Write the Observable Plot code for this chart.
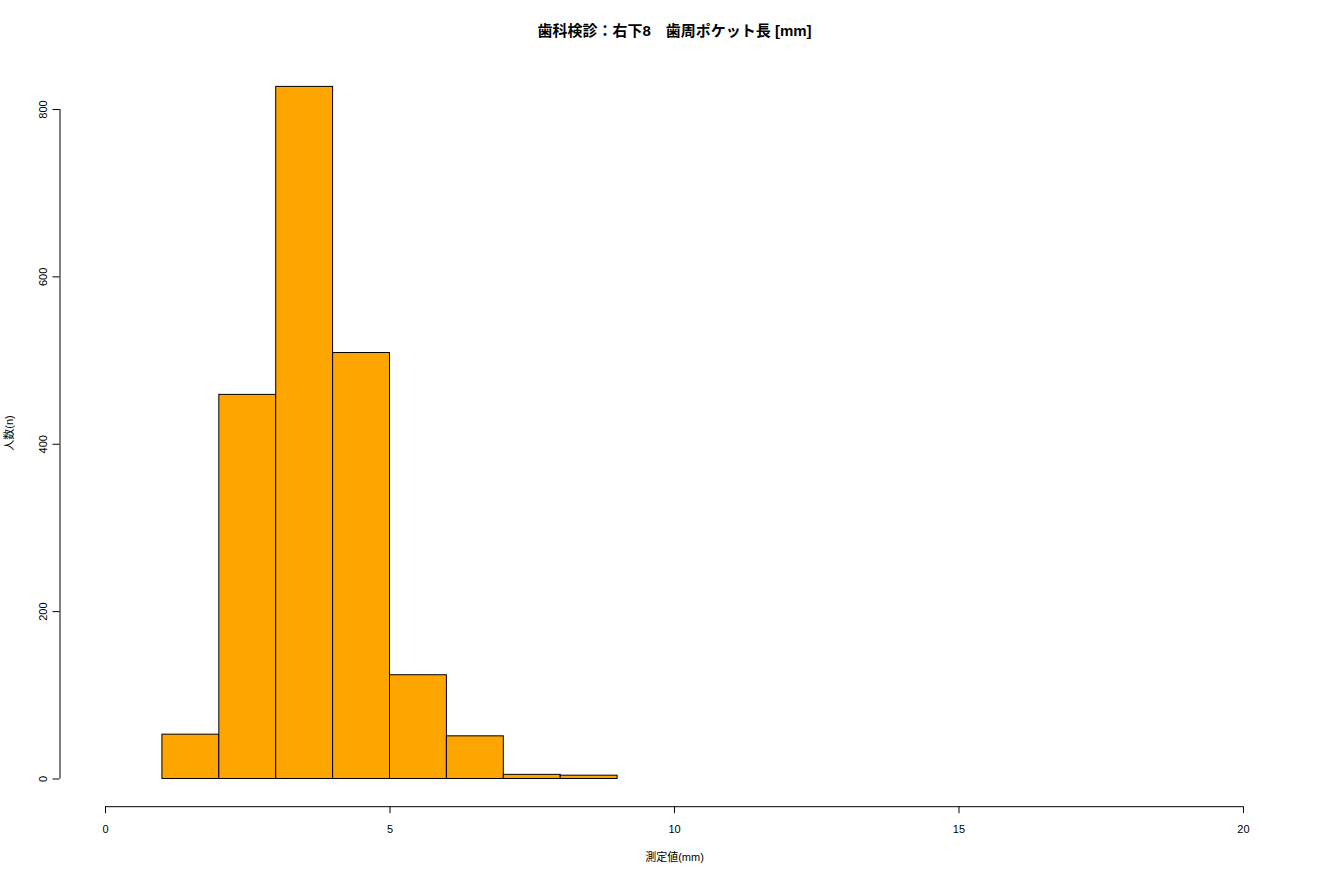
<!DOCTYPE html>
<html>
<head>
<meta charset="utf-8">
<script src="https://cdn.jsdelivr.net/npm/d3@7"></script>
<script src="https://cdn.jsdelivr.net/npm/@observablehq/plot@0.6"></script>
<style>
  html, body { margin: 0; padding: 0; background: #fff; }
  #chart svg { display: block; }
</style>
</head>
<body>
<div id="chart"></div>
<script>
// Data
const binStarts = [1, 2, 3, 4, 5, 6, 7, 8];
const binEnds   = [2, 3, 4, 5, 6, 7, 8, 9];
const counts    = [53, 459, 827, 509, 124, 51, 5, 4];
const xTicks = [0, 5, 10, 15, 20];
const yTicks = [0, 200, 400, 600, 800];
const titleText = "歯科検診：右下8　歯周ポケット長 [mm]";
const xLabel = "測定値(mm)";
const yLabel = "人数(n)";

const bins = binStarts.map((s, i) => ({x1: s, x2: binEnds[i], n: counts[i]}));

// R-style 4% padding of axis ranges
const xLim = [d3.min(xTicks), d3.max(xTicks)];
const xPad = (xLim[1] - xLim[0]) * 0.04;
const xDomain = [xLim[0] - xPad, xLim[1] + xPad];
const yLim = [0, d3.max(counts)];
const yPad = (yLim[1] - yLim[0]) * 0.04;
const yDomain = [yLim[0] - yPad, yLim[1] + yPad];

const font = "'Liberation Sans', 'Noto Sans CJK JP', sans-serif";

const chart = Plot.plot({
  width: 1320,
  height: 880,
  marginLeft: 59.5,
  marginRight: 31.5,
  marginTop: 58.7,
  marginBottom: 73.8,
  style: {fontFamily: font, fontSize: "11px", color: "#000", background: "#fff"},
  x: {domain: xDomain, axis: null},
  y: {domain: yDomain, axis: null},
  marks: [
    Plot.rect(bins, {x1: "x1", x2: "x2", y1: 0, y2: "n", fill: "#FFA500", stroke: "#000", strokeWidth: 1}),
    // y axis
    Plot.ruleX([xDomain[0]], {y1: d3.min(yTicks), y2: d3.max(yTicks), stroke: "#000"}),
    Plot.axisY(yTicks, {anchor: "left", tickSize: 7, tickPadding: 6, tickRotate: -90, fontSize: 11, label: null}),
    Plot.text([yLabel], {frameAnchor: "left", textAnchor: "middle", dx: -51, rotate: -90, fontSize: 11, fill: "#000"}),
    // x axis
    Plot.ruleY([yDomain[0]], {x1: d3.min(xTicks), x2: d3.max(xTicks), stroke: "#000"}),
    Plot.axisX(xTicks, {anchor: "bottom", tickSize: 7, tickPadding: 11, fontSize: 11, label: null}),
    Plot.text([xLabel], {frameAnchor: "bottom", dy: 54, fontSize: 11, fill: "#000"}),
    // title
    Plot.text([titleText], {frameAnchor: "top", dy: -34, fontSize: 15, fontWeight: "bold", fill: "#000"})
  ]
});
document.getElementById("chart").appendChild(chart);
</script>
</body>
</html>
